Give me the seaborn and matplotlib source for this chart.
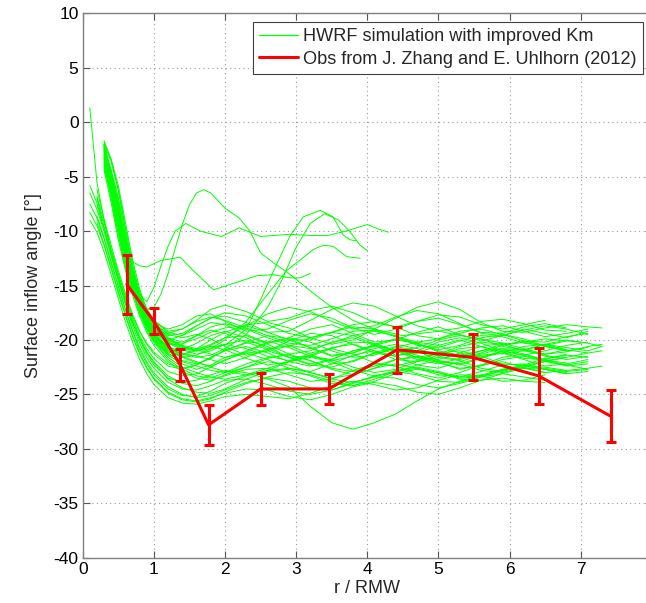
import numpy as np
import pandas as pd
import matplotlib
matplotlib.use("Agg")
import matplotlib.pyplot as plt
from matplotlib.lines import Line2D
import seaborn as sns

N = np.nan

# ---------------- observations (red, with error bars) ----------------
obs_r = [0.62, 1.00, 1.37, 1.77, 2.50, 3.46, 4.42, 5.48, 6.41, 7.42]
obs_angle = [-14.9, -18.3, -22.3, -27.8, -24.5, -24.5, -20.9, -21.6, -23.3, -27.0]
obs_err = [2.7, 1.2, 1.45, 1.85, 1.5, 1.4, 2.1, 2.1, 2.6, 2.4]

# ---------------- HWRF simulated profiles (green) ----------------
sim_x = [0.1, 0.2, 0.3, 0.4, 0.5, 0.6, 0.7, 0.8, 0.9, 1.0, 1.2, 1.4, 1.6, 1.8, 2.0,
         2.3, 2.6, 2.9, 3.2, 3.5, 3.8, 4.1, 4.4, 4.7, 5.0, 5.3, 5.6, 5.9, 6.2, 6.5,
         6.8, 7.1, 7.3]

sim_y = [
    [N,N,-2.0,-3.6,-6.2,-9.6,-13.0,-15.8,-17.2,-18.2,-19.3,-19.6,-19.0,-18.4,-18.6,-19.5,-20.3,-19.8,-19.0,-18.6,-19.4,-20.2,-20.0,-19.3,-18.8,-19.5,-20.1,-19.6,-19.0,-19.4,-19.8,-19.2,N],
    [N,N,-2.6,-5.6,-9.2,-12.4,-14.8,-16.6,-17.8,-18.9,-20.0,-20.6,-20.9,-20.4,-19.8,-19.6,-20.4,-21.3,-21.0,-20.2,-19.8,-20.5,-21.4,-21.2,-20.5,-20.0,-20.6,-21.3,-21.0,-20.4,-20.7,-21.0,-20.6],
    [N,N,-3.1,-4.6,-7.2,-10.4,-13.6,-16.2,-18.3,-19.4,-20.6,-21.2,-21.5,-21.8,-22.2,-21.6,-20.8,-20.5,-21.3,-22.2,-22.0,-21.2,-20.6,-21.0,-21.9,-22.3,-21.7,-21.0,-21.4,-22.0,-21.6,N,N],
    [N,N,-3.6,-6.6,-10.0,-13.0,-15.4,-17.3,-18.7,-19.8,-21.2,-22.0,-22.4,-22.8,-23.0,-22.5,-21.7,-21.3,-21.9,-22.7,-23.2,-22.6,-21.8,-21.5,-22.0,-22.7,-22.3,-21.6,-21.3,-21.8,-22.3,-22.0,N],
    [N,N,-2.3,-4.9,-8.0,-11.2,-14.0,-16.0,-17.5,-18.5,-19.0,-18.6,-17.8,-17.6,-18.3,-19.2,-19.0,-18.2,-17.6,-18.0,-18.9,-19.5,-19.0,-18.3,-18.0,-18.6,-19.3,-19.4,-18.8,-18.5,-18.9,N,N],
    [N,N,-4.0,-7.0,-10.4,-13.3,-15.6,-17.5,-19.0,-20.1,-21.6,-22.5,-23.0,-23.4,-23.6,-23.2,-22.6,-22.0,-21.6,-22.0,-22.8,-23.3,-23.0,-22.3,-21.9,-22.2,-22.8,-23.0,-22.5,-22.0,-22.3,-22.7,N],
    [N,N,-1.8,-3.4,-5.8,-9.2,-12.6,-15.3,-17.3,-18.5,-19.8,-20.2,-19.6,-18.8,-18.5,-19.0,-19.8,-20.5,-20.8,-20.3,-19.6,-19.2,-19.6,-20.4,-20.9,-20.5,-19.8,-19.5,-19.9,-20.6,-21.0,-20.7,N],
    [N,N,-2.8,-5.3,-8.4,-11.6,-14.4,-16.5,-18.0,-19.1,-20.3,-20.9,-21.3,-21.0,-20.4,-20.0,-20.6,-21.6,-22.2,-21.8,-21.0,-20.5,-20.9,-21.6,-21.8,-21.2,-20.6,-20.3,-20.8,-21.3,-21.1,-20.6,-20.4],
    [N,N,-3.3,-4.8,-7.4,-10.6,-13.8,-16.4,-18.3,-19.6,-20.9,-21.6,-22.1,-22.4,-21.9,-21.0,-20.2,-20.0,-20.7,-21.5,-21.2,-20.4,-19.9,-20.3,-21.1,-21.6,-21.2,-20.5,-20.1,-20.5,-21.0,N,N],
    [N,N,-2.1,-5.0,-8.6,-11.8,-14.4,-16.2,-17.4,-18.4,-19.5,-19.8,-19.5,-19.9,-20.6,-21.4,-21.0,-20.1,-19.4,-19.6,-20.4,-21.2,-21.5,-21.0,-20.2,-19.8,-20.3,-21.0,-21.4,-21.0,-20.5,-20.2,N],
    [N,N,-3.8,-5.2,-7.8,-11.0,-14.2,-16.8,-18.7,-20.0,-21.4,-22.2,-22.7,-22.3,-21.6,-21.2,-21.8,-22.6,-22.9,-22.2,-21.4,-21.0,-21.5,-22.3,-22.6,-22.0,-21.4,-21.2,-21.8,-22.4,-22.2,-21.8,N],
    [N,N,-2.5,-5.4,-9.0,-12.2,-14.7,-16.5,-17.7,-18.7,-19.6,-19.4,-18.7,-18.0,-17.5,-17.8,-18.6,-19.4,-19.8,-19.3,-18.6,-18.3,-18.8,-19.6,-19.9,-19.4,-18.9,-18.7,-19.2,-19.7,-19.4,-19.0,N],
    [N,N,-3.5,-5.9,-9.0,-12.1,-14.9,-17.0,-18.6,-19.7,-21.0,-21.6,-21.4,-20.8,-20.4,-20.8,-21.5,-21.9,-21.4,-20.7,-20.4,-21.0,-21.8,-22.0,-21.4,-20.8,-20.6,-21.1,-21.7,-21.8,-21.3,N,N],
    [N,N,-2.9,-4.4,-6.9,-10.2,-13.5,-16.1,-18.1,-19.2,-20.4,-20.4,-19.6,-19.1,-19.4,-20.2,-20.9,-20.6,-19.8,-19.3,-19.6,-20.4,-21.0,-20.7,-20.0,-19.6,-19.9,-20.6,-20.9,-20.4,-20.0,-20.3,-20.6],
    [N,N,-4.4,-7.4,-10.8,-13.6,-15.9,-17.8,-19.3,-20.5,-22.0,-22.9,-23.5,-23.7,-23.3,-22.7,-22.6,-23.2,-23.8,-23.6,-22.8,-22.2,-22.4,-23.1,-23.5,-23.0,-22.3,-22.0,-22.5,-23.0,-22.8,N,N],
    [N,N,-2.2,-4.8,-8.0,-11.2,-14.0,-16.1,-17.6,-18.6,-19.4,-19.0,-18.2,-17.2,-16.8,-17.4,-18.3,-18.0,-17.3,-16.9,-17.5,-18.4,-18.8,-18.3,-17.7,-17.9,-18.6,-19.0,-18.6,-18.2,N,N,N],
    [N,N,-3.2,-6.3,-9.7,-12.7,-15.1,-16.9,-18.4,-19.5,-20.8,-21.3,-21.0,-20.6,-20.9,-21.7,-22.3,-22.0,-21.2,-20.8,-21.3,-22.1,-22.4,-21.9,-21.2,-21.0,-21.5,-22.2,-22.3,-21.7,-21.4,-21.6,N],
    [N,N,-3.9,-5.4,-8.0,-11.3,-14.5,-17.0,-18.9,-20.0,-21.3,-21.9,-22.2,-21.7,-20.9,-20.3,-20.1,-20.7,-21.5,-21.9,-21.5,-20.8,-20.4,-20.8,-21.5,-21.8,-21.3,-20.8,-20.9,-21.5,-21.6,-21.2,-21.0],
    [N,N,-2.4,-4.9,-8.1,-11.3,-14.1,-16.2,-17.8,-18.9,-20.1,-20.3,-19.9,-19.3,-18.9,-18.7,-19.3,-20.0,-20.0,-19.3,-18.8,-19.0,-19.7,-20.2,-19.9,-19.2,-19.0,-19.5,-20.1,-20.2,-19.7,-19.4,N],
    [N,N,-3.0,-6.1,-9.6,-12.6,-15.0,-16.8,-18.2,-19.3,-20.7,-21.5,-22.0,-22.5,-22.9,-23.2,-22.8,-22.0,-21.5,-21.8,-22.5,-23.0,-22.7,-22.0,-21.6,-21.9,-22.6,-22.9,-22.4,-21.9,-22.1,N,N],
    [N,N,-1.7,-3.5,-6.3,-9.8,-13.2,-15.6,-17.1,-18.2,-19.2,-19.0,-18.3,-17.9,-18.2,-18.9,-19.6,-20.3,-20.5,-19.9,-19.2,-19.1,-19.7,-20.5,-20.7,-20.1,-19.6,-19.7,-20.3,-20.5,-20.1,N,N],
    [N,N,-4.2,-6.5,-9.5,-12.6,-15.4,-17.5,-19.1,-20.2,-21.8,-22.7,-23.3,-23.5,-23.0,-22.2,-21.6,-21.4,-21.9,-22.6,-22.9,-22.4,-21.8,-21.6,-22.1,-22.6,-22.4,-21.8,-21.5,-21.9,-22.4,-22.2,N],
    [N,N,-2.7,-5.8,-9.4,-12.5,-14.9,-16.7,-17.9,-19.0,-20.2,-20.7,-20.9,-21.3,-21.6,-21.1,-20.3,-19.8,-20.2,-21.0,-21.6,-21.4,-20.7,-20.2,-20.5,-21.2,-21.6,-21.2,-20.6,-20.4,-20.9,-21.2,N],
    [N,N,-3.4,-5.0,-7.6,-10.9,-14.0,-16.6,-18.5,-19.6,-20.8,-20.9,-20.3,-19.6,-19.2,-19.8,-20.8,-21.6,-21.5,-20.8,-20.2,-20.3,-21.0,-21.6,-21.3,-20.6,-20.2,-20.4,-21.0,-21.3,-20.9,N,N],
    [N,N,-2.6,-5.1,-8.2,-11.4,-14.2,-16.3,-17.9,-19.0,-20.0,-19.6,-18.7,-18.0,-17.8,-18.4,-19.3,-19.2,-18.2,-17.2,-16.6,-16.9,-17.8,-18.7,-19.2,-18.9,-18.3,-18.1,-18.5,-19.1,-19.2,N,N],
    [N,N,-3.7,-6.8,-10.2,-13.1,-15.5,-17.4,-18.8,-19.9,-21.1,-21.4,-20.8,-20.0,-19.3,-18.6,-18.4,-18.9,-19.8,-20.4,-20.0,-19.0,-18.0,-17.0,-16.5,-17.2,-18.4,-19.2,-19.3,-18.9,-18.6,-18.8,-18.9],
    [N,N,-2.0,-4.5,-7.7,-10.9,-13.7,-15.8,-17.4,-18.6,-19.9,-20.5,-20.8,-20.5,-19.8,-18.7,-17.6,-17.0,-17.4,-18.3,-19.0,-18.7,-17.9,-17.3,-17.6,-18.5,-19.4,-19.6,-19.1,-18.7,-19.0,-19.5,N],
    [1.3,-5.5,-9.0,-11.8,-14.0,-16.0,-17.8,-19.2,-20.3,-21.1,-22.2,-22.6,-22.3,-21.6,-21.0,-20.6,-21.2,-22.0,-22.4,-21.8,-21.0,-20.6,-21.0,-21.8,-22.2,-21.7,-21.0,-20.8,-21.3,-21.9,-21.6,N,N],
    [-6.5,-8.0,-10.0,-12.3,-14.5,-16.6,-18.4,-19.9,-21.1,-22.0,-23.3,-24.0,-24.2,-23.8,-23.2,-22.5,-22.0,-22.3,-23.0,-23.5,-23.2,-22.6,-22.2,-22.6,-23.2,-23.4,-22.9,-22.3,-22.2,-22.7,-23.0,N,N],
    [-7.5,-8.8,-10.7,-12.9,-15.1,-17.2,-19.1,-20.7,-22.0,-23.0,-24.3,-25.0,-25.3,-25.1,-24.6,-23.9,-23.5,-23.8,-24.4,-24.6,-24.0,-23.3,-22.9,-23.2,-23.8,-23.9,-23.3,-22.7,-22.6,-23.0,N,N,N],
    [-8.3,-9.5,-11.3,-13.5,-15.7,-17.8,-19.7,-21.3,-22.6,-23.6,-24.9,-25.5,-25.7,-25.4,-24.8,-24.0,-23.4,-23.0,-23.2,-23.8,-24.2,-23.8,-23.1,-22.7,-23.0,-23.5,-23.4,-22.8,-22.4,-22.7,-23.1,-22.9,N],
    [-9.0,-10.1,-11.9,-14.0,-16.2,-18.3,-20.2,-21.8,-23.1,-24.1,-25.3,-25.8,-25.9,-25.6,-25.2,-25.0,-25.2,-25.4,-24.9,-24.2,-23.8,-24.1,-24.6,-24.4,-23.7,-23.2,-23.3,-23.8,-23.7,-23.2,N,N,N],
    [N,-6.8,-9.2,-11.6,-13.9,-16.1,-18.0,-19.6,-20.8,-21.7,-22.9,-23.3,-23.1,-22.5,-21.8,-21.2,-21.0,-21.6,-22.3,-22.5,-21.9,-21.2,-20.9,-21.4,-22.0,-22.2,-21.6,-21.0,-20.9,-21.4,-21.8,-21.5,N],
    [N,-7.6,-9.9,-12.2,-14.5,-16.7,-18.7,-20.3,-21.6,-22.6,-23.9,-24.5,-24.6,-24.2,-23.7,-23.6,-24.1,-24.7,-25.0,-24.6,-23.9,-23.4,-23.5,-24.1,-24.4,-24.0,-23.4,-23.1,-23.4,-23.7,N,N,N],
    [N,-8.6,-10.6,-12.8,-15.0,-17.2,-19.2,-20.9,-22.2,-23.2,-24.5,-25.1,-25.2,-24.7,-24.0,-23.3,-22.8,-22.6,-23.0,-23.6,-23.9,-23.4,-22.8,-22.5,-22.9,-23.4,-23.3,-22.7,-22.3,-22.5,-22.8,-22.6,-22.4],
    [N,-6.2,-8.9,-11.3,-13.6,-15.7,-17.6,-19.2,-20.4,-21.3,-22.4,-22.7,-22.3,-21.6,-21.0,-20.2,-19.6,-19.9,-20.7,-21.4,-21.2,-20.5,-20.0,-20.3,-21.0,-21.4,-21.0,-20.4,-20.2,-20.6,-21.0,N,N],
    [-5.8,-7.4,-9.7,-12.0,-14.2,-16.3,-18.2,-19.8,-21.1,-22.1,-23.6,-24.4,-24.8,-24.9,-24.5,-23.6,-22.9,-22.7,-23.3,-24.0,-24.2,-23.6,-22.9,-22.6,-23.0,-23.6,-23.7,-23.1,-22.6,-22.7,-23.1,N,N],
    [N,-9.2,-11.2,-13.3,-15.5,-17.6,-19.6,-21.2,-22.5,-23.5,-24.8,-25.4,-25.6,-25.3,-24.9,-24.5,-24.6,-25.2,-25.5,-25.0,-24.3,-23.9,-24.2,-24.8,-25.0,-24.4,-23.7,-23.5,-23.8,-23.9,N,N,N],
    [N,-7.0,-9.6,-12.0,-14.3,-16.5,-18.4,-20.0,-21.3,-22.3,-23.5,-23.9,-23.7,-23.2,-22.8,-23.0,-23.6,-24.3,-26.1,-27.6,-28.2,-27.6,-26.8,-25.6,-24.5,-23.8,-23.2,-22.8,-22.4,-22.6,-22.9,-22.7,N],
]

# profiles that leave the main bundle (own radial sampling)
peak_x = [0.3, 0.4, 0.5, 0.6, 0.7, 0.8, 0.9, 1.0, 1.1, 1.2, 1.3, 1.4, 1.5, 1.6, 1.7,
          1.8, 2.0, 2.2, 2.35, 2.5, 2.7, 2.9, 3.2, 3.5, 3.8, 4.1, 4.5, 5.0, 5.5,
          6.0, 6.5, 7.0]
peak_y = [-2.4, -4.9, -8.0, -11.2, -14.0, -16.0, -17.2, -17.0, -15.8, -13.9, -11.6,
          -9.4, -7.6, -6.5, -6.2, -6.5, -7.9, -8.8, -10.0, -12.0, -13.0, -13.9,
          -15.5, -17.0, -18.2, -19.0, -19.6, -19.2, -19.8, -20.4, -19.9, -20.2]

flat_x = [0.3, 0.4, 0.5, 0.6, 0.7, 0.8, 0.9, 1.0, 1.1, 1.2, 1.3, 1.45, 1.65, 1.95,
          2.2, 2.5, 2.9, 3.2, 3.45, 3.7, 4.0, 4.15, 4.3]
flat_y = [-2.0, -4.5, -7.7, -10.9, -13.7, -15.8, -16.5, -15.2, -13.2, -11.4, -10.0,
          -9.3, -10.0, -10.5, -9.7, -10.5, -10.3, -10.4, -10.4, -10.0, -9.4, -9.8, -10.1]

rise1_x = [0.3, 0.4, 0.5, 0.6, 0.7, 0.8, 0.9, 1.0, 1.2, 1.4, 1.6, 1.8, 2.0, 2.3,
           2.5, 2.73, 2.91, 3.1, 3.34, 3.52, 3.66, 3.76, 3.85]
rise1_y = [-3.0, -5.4, -8.5, -11.7, -14.5, -16.6, -18.1, -19.1, -20.2, -20.8, -21.0,
           -20.6, -20.5, -19.0, -16.3, -13.0, -10.5, -8.7, -8.1, -8.7, -10.35, -10.8, -10.9]

rise2_x = [0.3, 0.4, 0.5, 0.6, 0.7, 0.8, 0.9, 1.0, 1.2, 1.4, 1.6, 1.8, 2.0, 2.3,
           2.6, 2.8, 3.0, 3.2, 3.4, 3.6, 3.75, 3.9, 4.0]
rise2_y = [-3.3, -5.7, -8.8, -12.0, -14.8, -16.9, -18.4, -19.5, -20.7, -21.3, -21.6,
           -21.4, -20.8, -19.5, -17.0, -14.5, -11.5, -9.3, -8.4, -9.0, -10.0, -11.3, -11.8]

rise3_x = [0.3, 0.4, 0.5, 0.6, 0.7, 0.8, 0.9, 1.0, 1.2, 1.4, 1.6, 1.8, 2.0, 2.3,
           2.6, 2.87, 3.05, 3.24, 3.38, 3.52, 3.62, 3.71, 3.9]
rise3_y = [-2.2, -4.8, -7.9, -11.1, -13.9, -15.9, -17.4, -18.5, -19.8, -20.6, -21.0,
           -20.8, -20.0, -18.3, -15.8, -13.6, -12.7, -11.7, -11.3, -11.4, -11.9, -12.35, -12.5]

shelf_x = [0.3, 0.4, 0.5, 0.6, 0.7, 0.8, 0.9, 1.1, 1.37, 1.55, 1.84, 2.12, 2.45,
           2.68, 2.91, 3.05, 3.2]
shelf_y = [-2.2, -4.7, -7.9, -10.6, -12.8, -13.2, -13.3, -12.7, -12.4, -13.6, -15.4,
           -14.8, -14.1, -14.0, -14.3, -14.3, -13.9]

# ---------------- build long-form table ----------------
rows = []
run = 0
for ys in sim_y:
    for xv, yv in zip(sim_x, ys):
        if not np.isnan(yv):
            rows.append((run, xv, yv))
    run += 1
for xs, ys in [(peak_x, peak_y), (flat_x, flat_y), (rise1_x, rise1_y),
               (rise2_x, rise2_y), (rise3_x, rise3_y), (shelf_x, shelf_y)]:
    for xv, yv in zip(xs, ys):
        rows.append((run, xv, yv))
    run += 1
sim = pd.DataFrame(rows, columns=["run", "r", "angle"])

# ---------------- style ----------------
sns.set_style("white")
plt.rcParams["font.family"] = ["Liberation Sans", "DejaVu Sans"]
plt.rcParams["font.size"] = 12.5
plt.rcParams["axes.unicode_minus"] = False

fig = plt.figure(figsize=(6.46, 6.03), dpi=100)
ax = fig.add_axes([82.7 / 646, 1 - 557.7 / 603, 569.1 / 646, 544.4 / 603])

green = "#00ff00"
red = "#ff0000"

sns.lineplot(data=sim, x="r", y="angle", units="run", estimator=None,
             color=green, linewidth=0.7, ax=ax, legend=False, sort=True)

ax.errorbar(obs_r, obs_angle, yerr=obs_err, color=red, linewidth=2.2,
            elinewidth=2.2, capsize=3.6, capthick=2.2, zorder=5)

ax.set_xlim(0, 8)
ax.set_ylim(-40, 10)
ax.set_xticks(range(0, 8))
ax.set_yticks(range(-40, 11, 5))
ax.grid(True, linestyle=(0, (1, 3)), color="#9a9a9a", linewidth=0.8)
ax.set_axisbelow(True)
for s in ax.spines.values():
    s.set_color("#808080")
    s.set_linewidth(1.0)
ax.tick_params(direction="in", length=5, width=0.8, color="#555555",
               labelsize=12.5, labelcolor="black", top=True, right=True,
               bottom=True, left=True, pad=3)

ax.set_xlabel("r / RMW", fontsize=13, labelpad=2)
ax.set_ylabel("Surface inflow angle [°]", fontsize=13, labelpad=8)

handles = [Line2D([0], [0], color=green, linewidth=0.9),
           Line2D([0], [0], color=red, linewidth=2.2)]
labels = ["HWRF simulation with improved Km",
          "Obs from J. Zhang and E. Uhlhorn (2012)"]
leg = ax.legend(handles, labels, loc="upper right",
                bbox_to_anchor=(643 / 646, 1 - 22 / 603),
                bbox_transform=fig.transFigure, borderaxespad=0,
                fontsize=13.1, frameon=True, fancybox=False, framealpha=1,
                edgecolor="#404040", handlelength=2.15, handletextpad=0.28,
                borderpad=0.35, labelspacing=0.3)
leg.get_frame().set_linewidth(0.8)

fig.savefig("out.png", dpi=100)
